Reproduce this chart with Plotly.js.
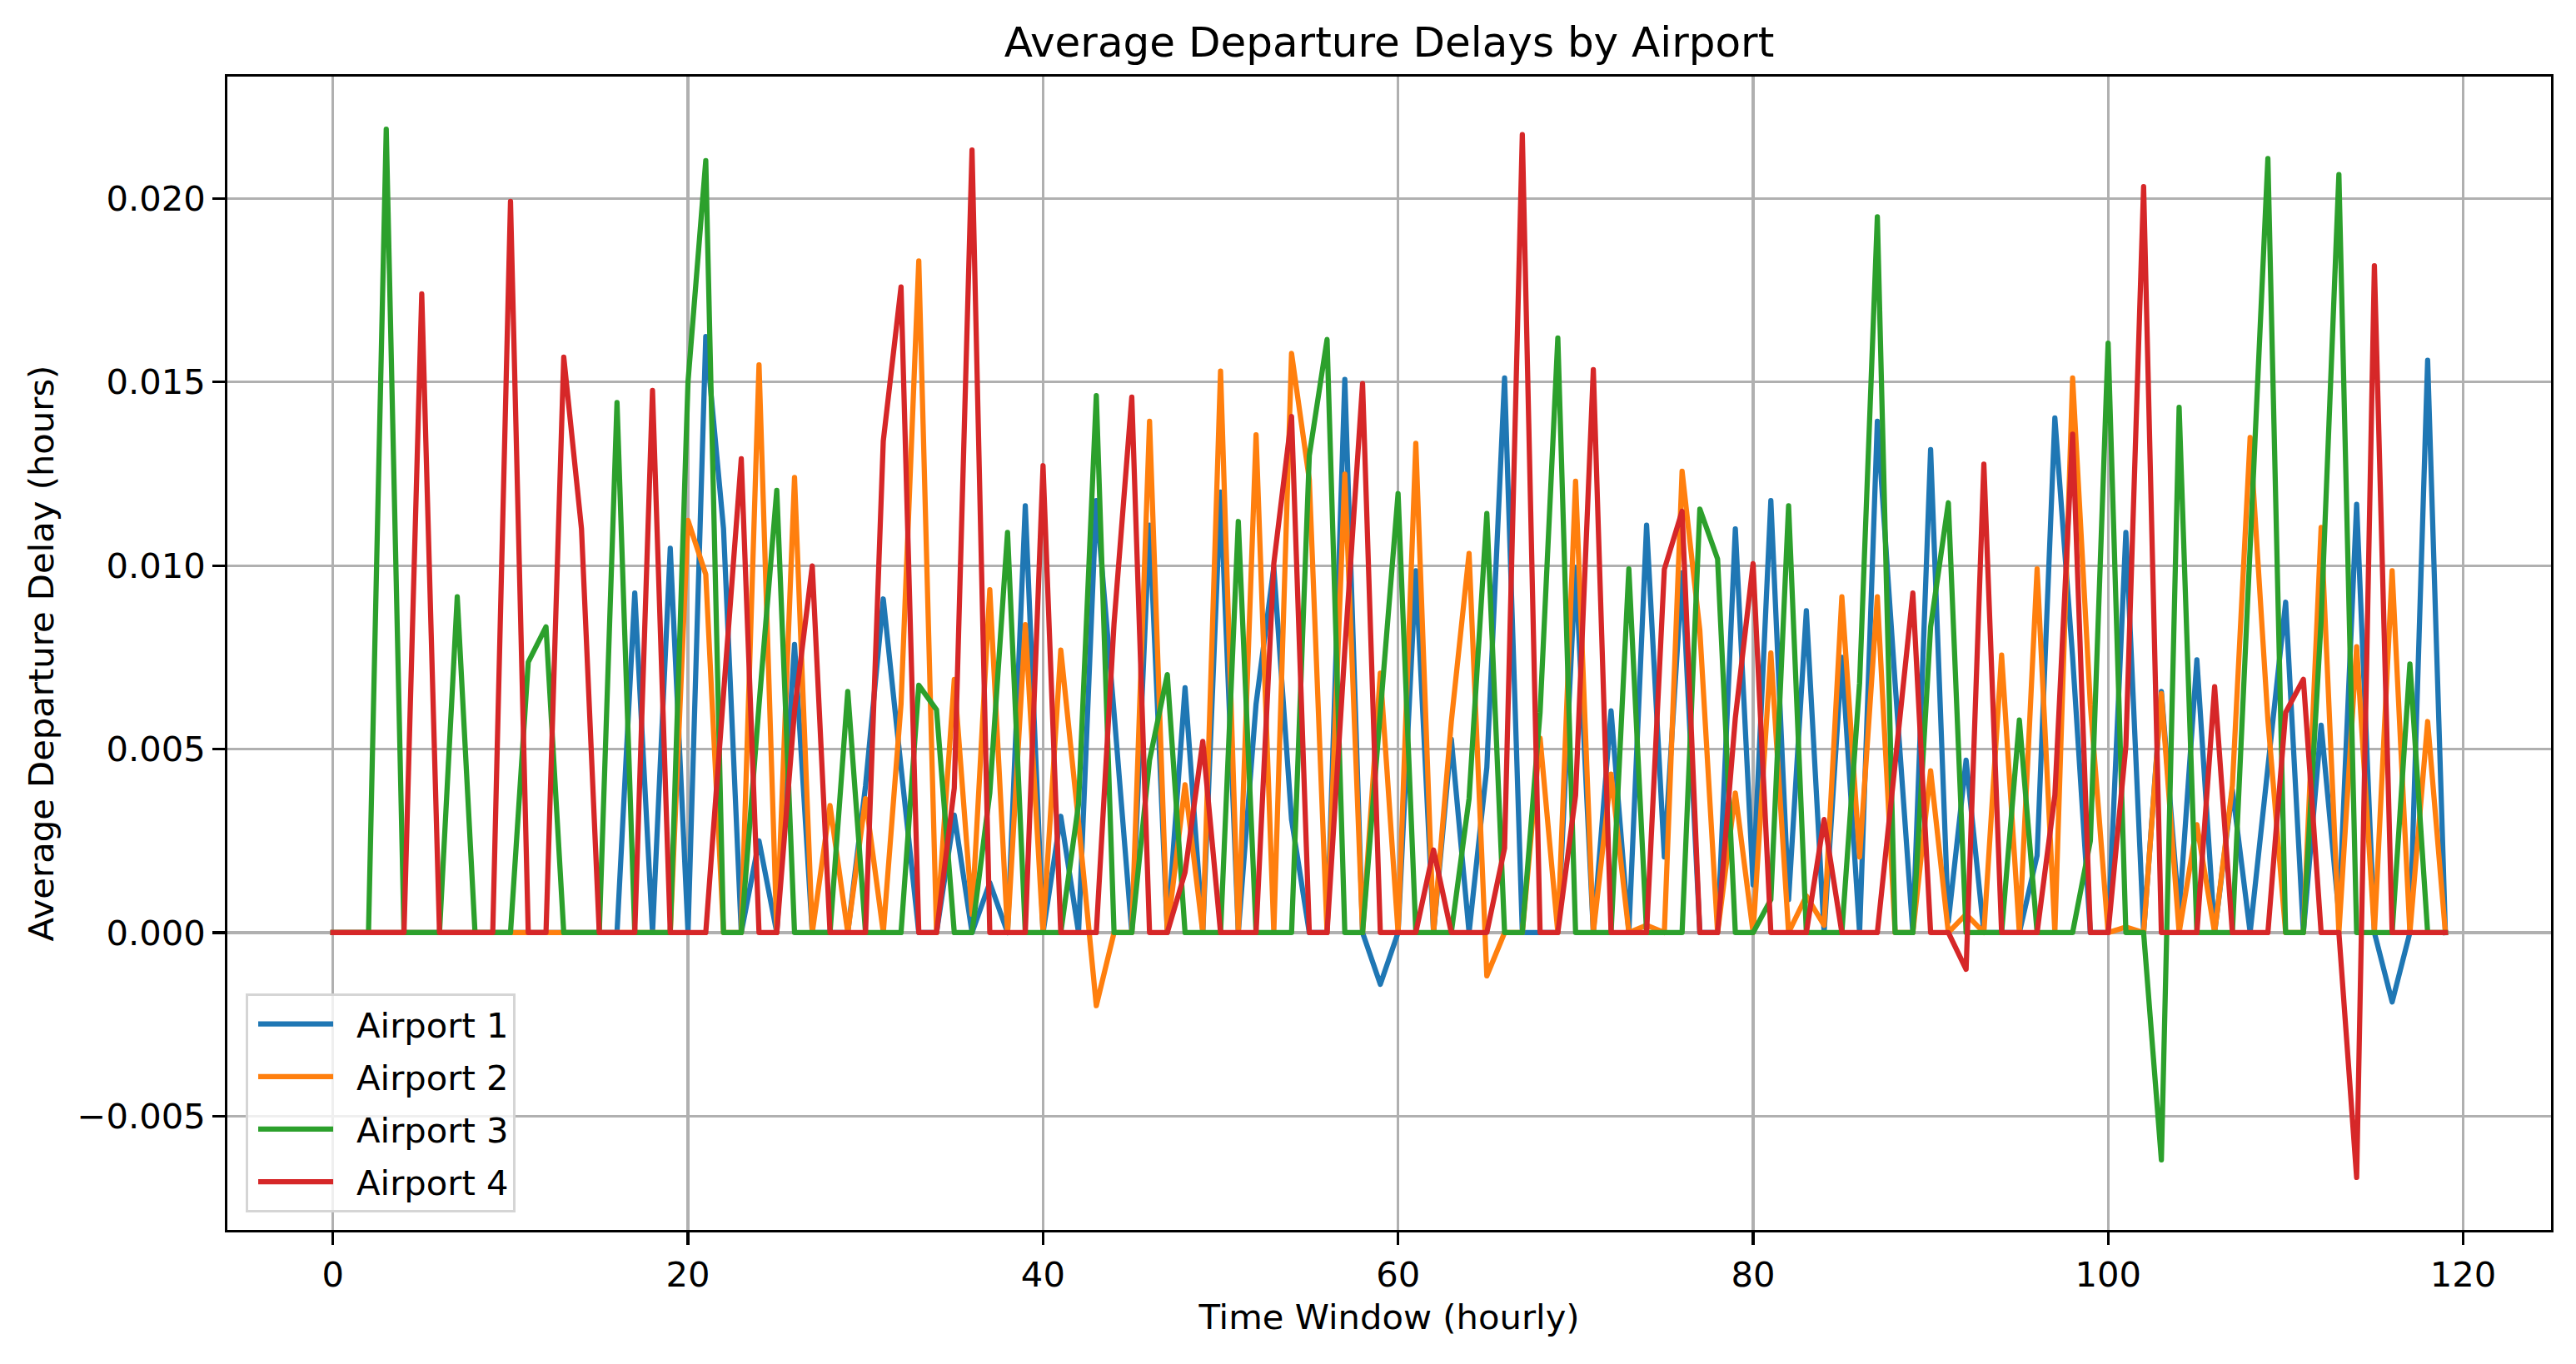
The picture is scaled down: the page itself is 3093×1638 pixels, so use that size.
<!DOCTYPE html>
<html>
<head>
<meta charset="utf-8">
<script src="https://cdn.plot.ly/plotly-3.0.1.min.js"></script>
<style>
  html, body { margin: 0; padding: 0; background: #ffffff; }
  #chart { width: 3093px; height: 1638px; }
  .scatterlayer path.js-line { stroke-linejoin: round !important; stroke-linecap: square !important; }
  .legend .legendlines path { d: path("M12,0h90") !important; stroke-linecap: butt !important; }
</style>
</head>
<body>
<div id="chart"></div>
<script>
// Time window index (hourly)
const hours = [
  0,1,2,3,4,5,6,7,8,9,10,11,12,13,14,15,16,17,18,19,
  20,21,22,23,24,25,26,27,28,29,30,31,32,33,34,35,36,37,38,39,
  40,41,42,43,44,45,46,47,48,49,50,51,52,53,54,55,56,57,58,59,
  60,61,62,63,64,65,66,67,68,69,70,71,72,73,74,75,76,77,78,79,
  80,81,82,83,84,85,86,87,88,89,90,91,92,93,94,95,96,97,98,99,
  100,101,102,103,104,105,106,107,108,109,110,111,112,113,114,115,116,117,118,119
];

const seriesNames = ["Airport 1", "Airport 2", "Airport 3", "Airport 4"];

const airport1 = [
  0,0,0,0,0,0,0,0,0,0,
  0,0,0,0,0,0,0,0.00925,0,0.01047,
  0,0.01624,0.0110,0,0.0025,0,0.00785,0,0,0,
  0.004,0.00909,0.0045,0,0,0.0032,0,0.00136,0,0.01163,
  0,0.00317,0,0.01177,0.006,0,0.0111,0,0.00667,0,
  0.012,0,0.00623,0.00995,0.00308,0,0,0.01507,0,-0.00141,
  0,0.00986,0,0.00527,0,0.0045,0.01511,0,0,0,
  0.00995,0,0.00604,0,0.0111,0.00206,0.0098,0,0,0.011,
  0.0013,0.01177,0.0009,0.00877,0,0.0075,0,0.01393,0.0068,0,
  0.01316,0.0003,0.0047,0,0,0,0.0021,0.01402,0.0075,0,
  0,0.0109,0,0.00657,0.0005,0.00743,0,0.0039,0,0.0045,
  0.009,0,0.00565,0.0005,0.01167,0,-0.00189,0,0.01559,0
];

const airport2 = [
  0,0,0,0,0,0,0,0,0,0,
  0,0,0,0,0,0,0,0,0,0,
  0.01123,0.00976,0,0,0.01547,0,0.0124,0,0.00346,0,
  0.00365,0,0.00623,0.0183,0,0.0069,0.0005,0.00934,0,0.00839,
  0,0.0077,0.003,-0.00199,0,0,0.01393,0,0.00403,0,
  0.0153,0,0.01356,0,0.01578,0.01234,0,0.01249,0,0.00707,
  0,0.01333,0,0.00575,0.01033,-0.00118,0,0,0.0053,0,
  0.0123,0,0.00432,0,0.0002,0,0.01257,0.00823,0,0.0038,
  0,0.00762,0,0.001,0.0002,0.00915,0.00206,0.00915,0,0,
  0.00441,0,0.0005,0,0.00756,0,0.00991,0,0.01511,0.0062,
  0,0.00015,0,0.00651,0,0.00294,0,0.004,0.01349,0.0058,
  0,0,0.01104,0,0.00779,0,0.00986,0,0.00575,0
];

const airport3 = [
  0,0,0,0.02189,0,0,0,0.00915,0,0,
  0,0.00737,0.00833,0,0,0,0.01444,0,0,0,
  0.01501,0.02103,0,0,0.0062,0.01205,0,0,0,0.00657,
  0,0,0,0.00674,0.00607,0,0,0.0038,0.0109,0,
  0,0,0.0035,0.01463,0,0,0.0047,0.00703,0,0,
  0,0.0112,0,0,0,0.013,0.01616,0,0,0.006,
  0.01196,0,0,0,0.00365,0.01142,0,0,0.006,0.0162,
  0,0,0,0.00991,0,0,0,0.01154,0.01018,0,
  0,0.0009,0.01163,0,0,0,0.0068,0.0195,0,0,
  0.00833,0.01171,0,0,0,0.00579,0,0,0,0.0025,
  0.01606,0,0,-0.00619,0.01431,0,0,0,0.0105,0.02109,
  0,0,0.0085,0.02065,0,0,0,0.00732,0,0
];

const airport4 = [
  0,0,0,0,0,0.0174,0,0,0,0,
  0.01992,0,0,0.01568,0.0110,0,0,0,0.01477,0,
  0,0,0.0065,0.01291,0,0,0.00604,0.00999,0,0,
  0,0.01339,0.01759,0,0,0.00394,0.02132,0,0,0,
  0.01272,0,0,0,0.00842,0.01459,0,0,0.00164,0.00521,
  0,0,0,0.01005,0.01406,0,0,0.0077,0.01496,0,
  0,0,0.00225,0,0,0,0.0023,0.02174,0,0,
  0.00374,0.01534,0,0,0,0.0099,0.01148,0,0,0.00585,
  0.01005,0,0,0,0.00308,0,0,0,0.0046,0.00925,
  0,0,-0.001,0.01276,0,0,0,0.00374,0.01358,0,
  0,0.00508,0.02032,0,0,0,0.0067,0,0,0,
  0.006,0.0069,0,0,-0.00667,0.01817,0,0,0,0
];

const xTickValues = [0, 20, 40, 60, 80, 100, 120];
const yTickValues = [-0.005, 0, 0.005, 0.010, 0.015, 0.020];

const colors = ["#1f77b4", "#ff7f0e", "#2ca02c", "#d62728"];
const allSeries = [airport1, airport2, airport3, airport4];

const FONT = "DejaVu Sans, Verdana, sans-serif";
const BASE = 41.7;

const traces = allSeries.map((ys, i) => ({
  x: hours,
  y: ys,
  type: "scatter",
  mode: "lines",
  name: seriesNames[i],
  legendgroup: "g" + i,
  line: { color: colors[i], width: 6.25 },
  hoverinfo: "skip"
}));

const layout = {
  width: 3093,
  height: 1638,
  paper_bgcolor: "#ffffff",
  plot_bgcolor: "#ffffff",
  margin: { l: 273, r: 30, t: 92, b: 161, pad: 0 },
  font: { family: FONT, size: BASE, color: "#000000" },
  title: {
    text: "Average Departure Delays by Airport",
    font: { family: FONT, size: 50, color: "#000000" },
    x: 0.5, xref: "paper", xanchor: "center",
    y: 1 - 50 / 1638, yref: "container", yanchor: "middle"
  },
  xaxis: {
    range: [-5.95, 124.95],
    tickvals: xTickValues,
    ticktext: xTickValues.map(String),
    ticks: "outside", ticklen: 14.6, tickwidth: 3.3, tickcolor: "#000000",
    showline: true, linecolor: "#000000", linewidth: 3.3, mirror: true,
    showgrid: true, gridcolor: "#b0b0b0", gridwidth: 3.3,
    zeroline: false,
    tickfont: { family: FONT, size: BASE, color: "#000000" },
    title: { text: "Time Window (hourly)", font: { family: FONT, size: BASE, color: "#000000" }, standoff: 14 }
  },
  yaxis: {
    range: [-0.0081, 0.02332],
    tickvals: yTickValues,
    ticktext: yTickValues.map(v => (v < 0 ? "\u2212" : "") + Math.abs(v).toFixed(3)),
    ticks: "outside", ticklen: 14.6, tickwidth: 3.3, tickcolor: "#000000",
    showline: true, linecolor: "#000000", linewidth: 3.3, mirror: true,
    showgrid: true, gridcolor: "#b0b0b0", gridwidth: 3.3,
    zeroline: false,
    tickfont: { family: FONT, size: BASE, color: "#000000" },
    title: { text: "Average Departure Delay (hours)", font: { family: FONT, size: BASE, color: "#000000" }, standoff: 16 }
  },
  showlegend: true,
  legend: {
    x: 0.0079, y: 0.0152, xanchor: "left", yanchor: "bottom",
    bgcolor: "rgba(255,255,255,0.8)",
    bordercolor: "#d5d5d5", borderwidth: 3,
    font: { family: FONT, size: BASE, color: "#000000" },
    tracegroupgap: 6,
    itemwidth: 120
  },
  hovermode: false
};

Plotly.newPlot("chart", traces, layout, { displayModeBar: false, staticPlot: true });
</script>
</body>
</html>
